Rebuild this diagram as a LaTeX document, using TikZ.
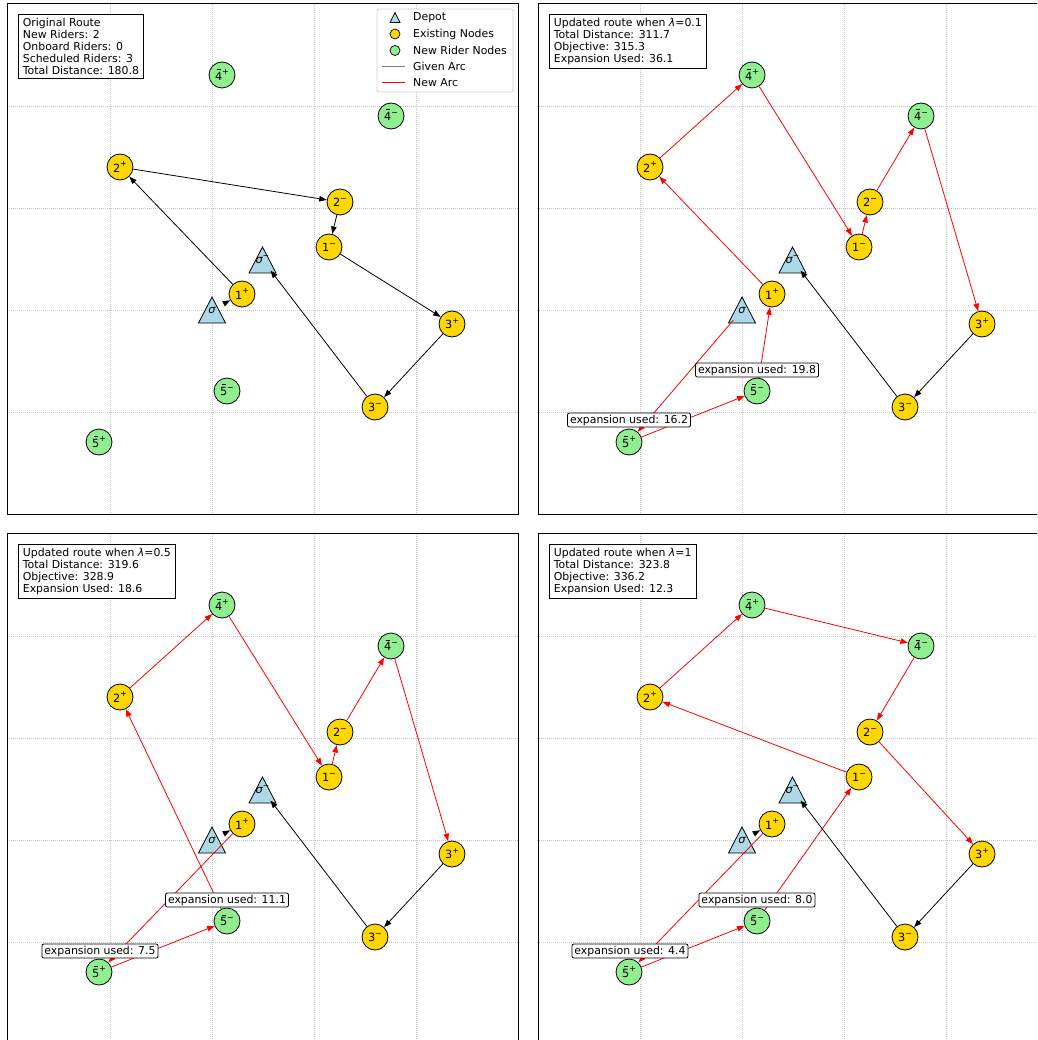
\documentclass[tikz,border=0pt]{standalone}
\usepackage{fontspec}
\setmainfont{DejaVu Sans}
\usetikzlibrary{arrows.meta}
\definecolor{goldc}{HTML}{FFD700}
\definecolor{lgreen}{HTML}{90EE90}
\definecolor{lblue}{HTML}{ADD8E6}
\newcommand\boxfont{\fontsize{10.9}{12.2}\selectfont}
\newcommand\nodefont{\fontsize{11.3}{12}\selectfont}
\newcommand\supp[1]{\raisebox{0.45em}{\fontsize{8}{8}\selectfont #1}}
\newcommand\bard[1]{\ooalign{#1\cr\hidewidth\raisebox{0.86em}{\rule{0.34em}{0.08em}}\hidewidth\cr}}
\tikzset{
  ex/.style={circle, draw=black, line width=0.8pt, fill=goldc, minimum size=26pt, inner sep=0pt, font=\nodefont},
  nw/.style={ex, fill=lgreen},
  dep/.style={circle, minimum size=26pt, inner sep=0pt, font=\nodefont},
  given/.style={draw=black, line width=0.8pt, -{Triangle[length=7.5pt,width=5.5pt]}},
  newarc/.style={draw=red, line width=0.8pt, -{Triangle[length=7.5pt,width=5.5pt]}},
  infobox/.style={draw=black, fill=white, line width=0.8pt, align=left, inner xsep=4.5pt, inner ysep=3.5pt, font=\boxfont, anchor=north west},
  exlab/.style={draw=black, fill=white, rounded corners=2pt, line width=0.8pt, inner xsep=2.5pt, inner ysep=1.8pt, font=\boxfont},
  gridl/.style={gray!45, line width=0.6pt, dash pattern=on 1pt off 1pt},
  frame/.style={draw=black, line width=1pt},
  legtext/.style={anchor=west, font=\boxfont, inner sep=0pt},
}
\newcommand\depot[4]{%
  \filldraw[fill=lblue, draw=black, line width=0.8pt] (#2,#3) ++(0,-13) -- ++(13.5,26) -- ++(-27,0) -- cycle;
  \node[dep] (#1) at (#2,#3) {#4};
}
\newcommand\panelgrid{%
  \foreach \g in {110,212,314,416} {\draw[gridl] (\g,4) -- (\g,514);}
  \foreach \g in {106,208,310,412} {\draw[gridl] (7,\g) -- (518,\g);}
}
\newcommand\allnodes[1]{%
  \node[nw] (#14p) at (222,75) {\bard{4}\supp{+}};
  \node[nw] (#14m) at (391,116) {\bard{4}\supp{−}};
  \node[ex] (#12p) at (120,167) {2\supp{+}};
  \node[ex] (#12m) at (340,202) {2\supp{−}};
  \node[ex] (#11m) at (329,247) {1\supp{−}};
  \node[ex] (#11p) at (242,294) {1\supp{+}};
  \node[ex] (#13p) at (452,324) {3\supp{+}};
  \node[ex] (#13m) at (375,407) {3\supp{−}};
  \node[nw] (#15m) at (227,391) {\bard{5}\supp{−}};
  \node[nw] (#15p) at (99,442) {\bard{5}\supp{+}};
  \depot{#1s}{212}{310}{\itshape σ}
  \depot{#1o}{262.5}{260}{{\itshape σ}\supp{−}}
}
\begin{document}
\begin{tikzpicture}[x=1pt,y=-1pt]
\useasboundingbox (0,0) rectangle (1037,1040);
\clip (0,0) rectangle (1037,1040);
\fill[white] (0,0) rectangle (1037,1040);

% ---------- top-left: original route ----------
\begin{scope}
  \panelgrid
  \allnodes{a}
  \draw[given] (as) -- (a1p);
  \draw[given] (a1p) -- (a2p);
  \draw[given] (a2p) -- (a2m);
  \draw[given] (a2m) -- (a1m);
  \draw[given] (a1m) -- (a3p);
  \draw[given] (a3p) -- (a3m);
  \draw[given] (a3m) -- (ao);
  \node[infobox] (ainfo) at (18,14) {Original Route\\New Riders: 2\\Onboard Riders: 0\\Scheduled Riders: 3\\Total Distance: 180.8};
  % legend
  \draw[draw=gray!35, fill=white, rounded corners=2pt, line width=0.8pt] (377,9) rectangle (513,92);
  \filldraw[fill=lblue, draw=black, line width=0.7pt] (395,12.5) -- (400,22.5) -- (390,22.5) -- cycle;
  \filldraw[fill=goldc, draw=black, line width=0.7pt] (395,34) circle (5);
  \filldraw[fill=lgreen, draw=black, line width=0.7pt] (395,50.5) circle (5);
  \draw[gray, line width=1.4pt] (382,66.5) -- (405,66.5);
  \draw[red, line width=1.4pt] (382,82.5) -- (405,82.5);
  \node[legtext] (lg1) at (413,18) {Depot};
  \node[legtext] (lg2) at (413,34) {Existing Nodes};
  \node[legtext] (lg3) at (413,50.5) {New Rider Nodes};
  \node[legtext] (lg4) at (413,66.5) {Given Arc};
  \node[legtext] (lg5) at (413,82.5) {New Arc};
  \draw[frame] (7,4) rectangle (518,514);
\end{scope}

% ---------- top-right: lambda = 0.1 ----------
\begin{scope}[shift={(530,0)}]
  \panelgrid
  \allnodes{b}
  \draw[newarc] (bs) -- (b5p);
  \draw[newarc] (b5p) -- (b5m);
  \draw[newarc] (b5m) -- (b1p);
  \draw[newarc] (b1p) -- (b2p);
  \draw[newarc] (b2p) -- (b4p);
  \draw[newarc] (b4p) -- (b1m);
  \draw[newarc] (b1m) -- (b2m);
  \draw[newarc] (b2m) -- (b4m);
  \draw[newarc] (b4m) -- (b3p);
  \draw[given] (b3p) -- (b3m);
  \draw[given] (b3m) -- (bo);
  \node[exlab] (bl1) at (99,420) {expansion used: 16.2};
  \node[exlab] (bl2) at (227,370) {expansion used: 19.8};
  \node[infobox] (binfo) at (19,14) {Updated route when {\itshape λ}=0.1\\Total Distance: 311.7\\Objective: 315.3\\Expansion Used: 36.1};
  \draw[frame] (8,4) rectangle (519,514);
\end{scope}

% ---------- bottom-left: lambda = 0.5 ----------
\begin{scope}[shift={(0,530)}]
  \panelgrid
  \allnodes{c}
  \draw[given] (cs) -- (c1p);
  \draw[newarc] (c1p) -- (c5p);
  \draw[newarc] (c5p) -- (c5m);
  \draw[newarc] (c5m) -- (c2p);
  \draw[newarc] (c2p) -- (c4p);
  \draw[newarc] (c4p) -- (c1m);
  \draw[newarc] (c1m) -- (c2m);
  \draw[newarc] (c2m) -- (c4m);
  \draw[newarc] (c4m) -- (c3p);
  \draw[given] (c3p) -- (c3m);
  \draw[given] (c3m) -- (co);
  \node[exlab] (cl1) at (227,370) {expansion used: 11.1};
  \node[exlab] (cl2) at (100,421) {expansion used: 7.5};
  \node[infobox] (cinfo) at (18,14) {Updated route when {\itshape λ}=0.5\\Total Distance: 319.6\\Objective: 328.9\\Expansion Used: 18.6};
  \draw[frame] (7,3) rectangle (518,513);
\end{scope}

% ---------- bottom-right: lambda = 1 ----------
\begin{scope}[shift={(530,530)}]
  \panelgrid
  \allnodes{d}
  \draw[given] (ds) -- (d1p);
  \draw[newarc] (d1p) -- (d5p);
  \draw[newarc] (d5p) -- (d5m);
  \draw[newarc] (d5m) -- (d1m);
  \draw[newarc] (d1m) -- (d2p);
  \draw[newarc] (d2p) -- (d4p);
  \draw[newarc] (d4p) -- (d4m);
  \draw[newarc] (d4m) -- (d2m);
  \draw[newarc] (d2m) -- (d3p);
  \draw[given] (d3p) -- (d3m);
  \draw[given] (d3m) -- (do);
  \node[exlab] (dl1) at (227,370) {expansion used: 8.0};
  \node[exlab] (dl2) at (100,421) {expansion used: 4.4};
  \node[infobox] (dinfo) at (19,14) {Updated route when {\itshape λ}=1\\Total Distance: 323.8\\Objective: 336.2\\Expansion Used: 12.3};
  \draw[frame] (8,3) rectangle (519,513);
\end{scope}
\end{tikzpicture}
\end{document}
